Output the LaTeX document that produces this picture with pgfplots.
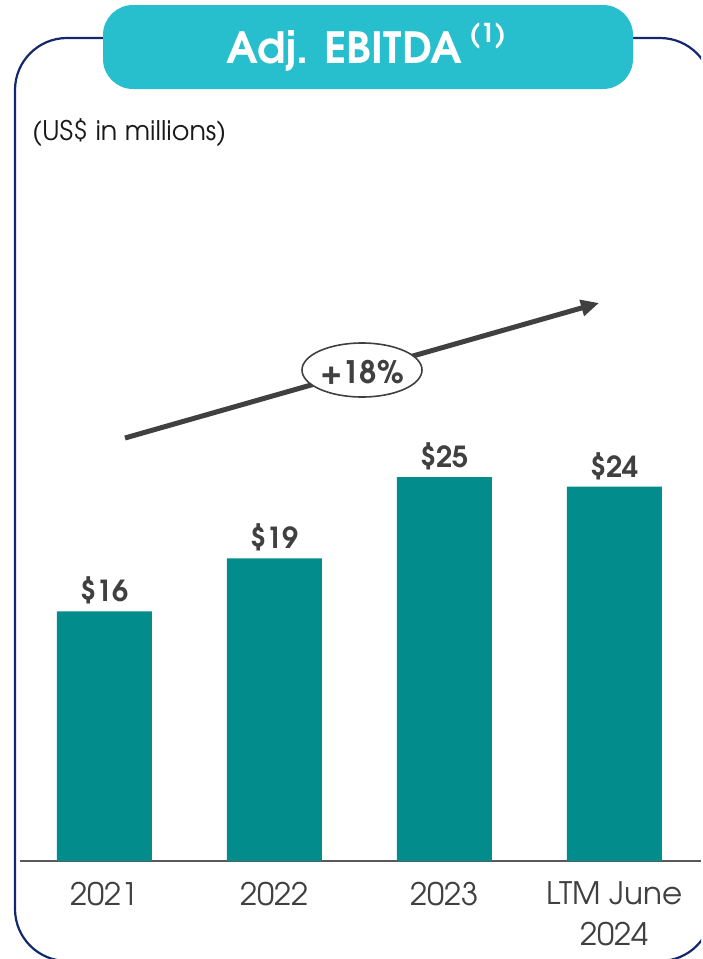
\documentclass[border=0pt]{standalone}
\usepackage{pgfplots}
\pgfplotsset{compat=1.18}
\usetikzlibrary{arrows.meta}
\usepackage{fontspec}
\setmainfont{texgyreadventor}[Extension=.otf,UprightFont=*-regular,BoldFont=*-bold,ItalicFont=*-italic,BoldItalicFont=*-bolditalic]
\definecolor{navy}{HTML}{14286E}
\definecolor{titleteal}{HTML}{27BECE}
\definecolor{barteal}{HTML}{028C8C}
\definecolor{dgray}{HTML}{404040}
\begin{document}
\begin{tikzpicture}
\begin{scope}[x=0.5pt,y=-0.5pt]
\useasboundingbox (0,0) rectangle (701,959);
\begin{scope}
\clip (0,0) rectangle (701,959);
\draw[navy,line width=1.1pt,rounded corners=26pt] (15,38) rectangle (712,961);
\end{scope}
\fill[titleteal,rounded corners=15pt] (103,5) rectangle (633,89);
\node[text=white,font=\bfseries\fontsize{21.5}{24}\selectfont] at (366,47) {Adj. EBITDA\,\raisebox{0.5em}{\fontsize{13}{13}\selectfont (1)}};
\node[anchor=west,font=\fontsize{13.5}{15}\selectfont,text=black!90] at (25,133) {(US\$ in millions)};
\end{scope}
\begin{axis}[at={(10pt,-430.5pt)}, anchor=south west, scale only axis,
  width=340.5pt, height=234pt,
  xmin=-0.497, xmax=3.509, ymin=0, ymax=30,
  axis x line=bottom, axis y line=none,
  axis line style={-, draw=black!65, line width=1pt},
  xtick={0,1,2,3}, xticklabels={2021,2022,2023,{LTM June\\2024}},
  major tick length=0pt,
  xticklabel style={align=center, font=\fontsize{15.5}{20.5}\selectfont, text=dgray, yshift=-7pt},
  ytick=\empty,
  /pgf/number format/assume math mode=true,
  ybar, bar width=47.5pt,
  nodes near coords={\$\pgfmathprintnumber[fixed,precision=0,assume math mode=true]{\pgfplotspointmeta}},
  nodes near coords style={font=\bfseries\fontsize{14.5}{16}\selectfont, text=dgray, anchor=south},
  clip=false]
\addplot[fill=barteal, draw=none] coordinates {(0,16.0) (1,19.4) (2,24.6) (3,24.0)};
\end{axis}
\begin{scope}[x=0.5pt,y=-0.5pt]
\draw[dgray, line width=2.5pt, -{Triangle[length=9pt,width=8pt]}] (125,438) -- (599,303);
\draw[dgray, fill=white, line width=0.8pt] (362,370) ellipse [x radius=30pt, y radius=13.5pt];
\node[font=\bfseries\fontsize{15.5}{17}\selectfont, text=dgray] at (362,372) {+18\%};
\end{scope}
\end{tikzpicture}
\end{document}
